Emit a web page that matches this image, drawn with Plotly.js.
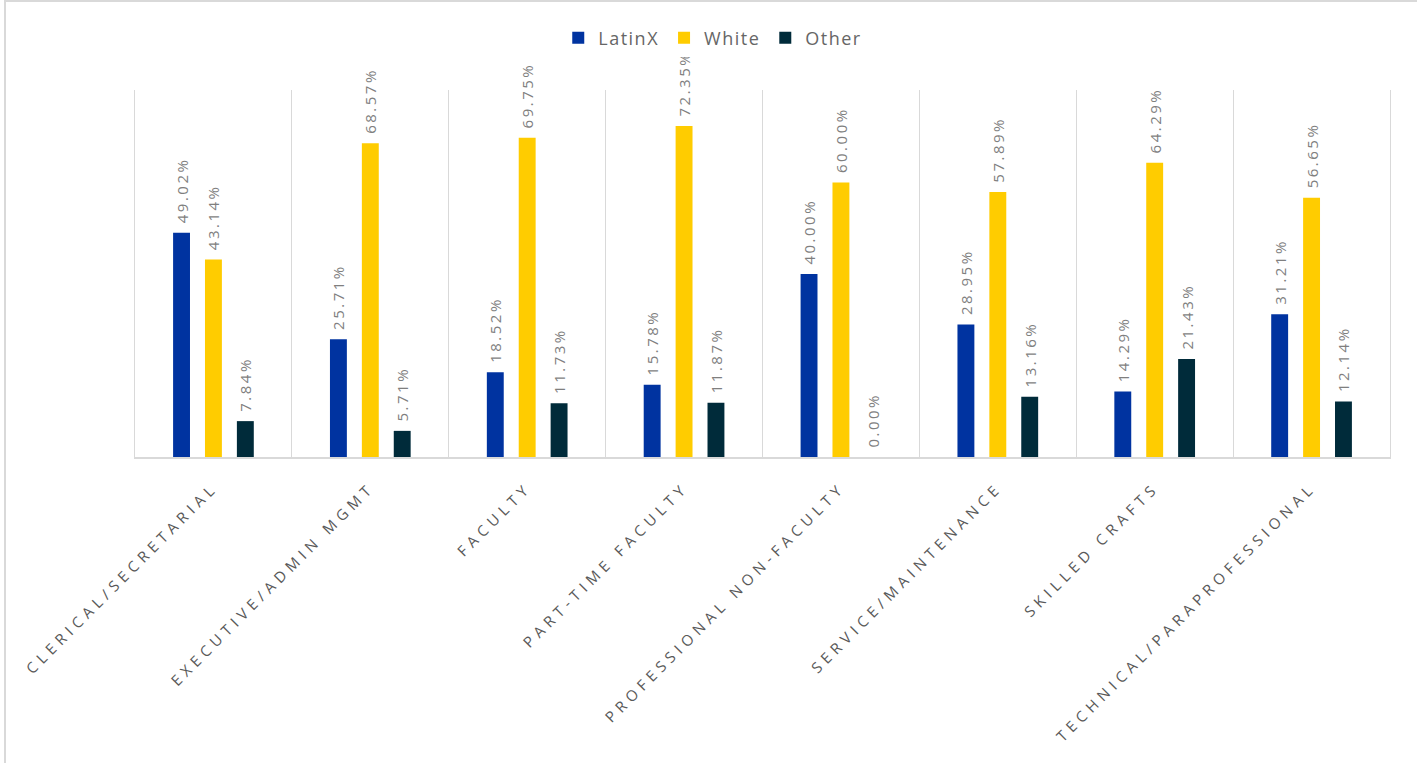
<!DOCTYPE html>
<html>
<head>
<meta charset="utf-8">
<script src="https://cdn.plot.ly/plotly-3.0.1.min.js"></script>
<style>
  html, body { margin: 0; padding: 0; background: #fff; }
  #wrap { position: relative; width: 1417px; height: 763px; overflow: hidden; }
  #frame { position: absolute; left: 4px; top: 0px; right: 0; bottom: 0;
           border-top: 2px solid #d9d9d9; border-left: 2px solid #d9d9d9; pointer-events: none; z-index: 5; }
  #chart { position: absolute; left: 0; top: 0; width: 1417px; height: 763px; }
  .xtick text { letter-spacing: 5px; }
  .bartext { letter-spacing: 2.5px; }
  .legendtext { letter-spacing: 1.5px; }
</style>
</head>
<body>
<div id="wrap">
  <div id="chart"></div>
  <div id="frame"></div>
</div>
<script>
const categories = [
  "CLERICAL/SECRETARIAL",
  "EXECUTIVE/ADMIN MGMT",
  "FACULTY",
  "PART-TIME FACULTY",
  "PROFESSIONAL NON-FACULTY",
  "SERVICE/MAINTENANCE",
  "SKILLED CRAFTS",
  "TECHNICAL/PARAPROFESSIONAL"
];
const latinx = [49.02, 25.71, 18.52, 15.78, 40.00, 28.95, 14.29, 31.21];
const white  = [43.14, 68.57, 69.75, 72.35, 60.00, 57.89, 64.29, 56.65];
const other  = [7.84, 5.71, 11.73, 11.87, 0.00, 13.16, 21.43, 12.14];

const seriesNames = ["LatinX", "White", "Other"];
const seriesColors = ["#0033a0", "#ffcc00", "#002b3a"];
const seriesValues = [latinx, white, other];

const labelFont = { family: "Open Sans, DejaVu Sans, sans-serif", size: 15, color: "#7f7f7f" };

const traces = seriesValues.map((vals, i) => ({
  type: "bar",
  name: seriesNames[i],
  x: categories,
  y: vals,
  marker: { color: seriesColors[i] },
  texttemplate: "\u00a0%{y:.2f}%",
  textposition: "outside",
  textangle: -90,
  constraintext: "none",
  cliponaxis: false,
  textfont: labelFont,
  hoverinfo: "x+y+name"
}));

const layout = {
  width: 1417,
  height: 763,
  margin: { l: 135, r: 27, t: 90, b: 306 },
  paper_bgcolor: "#ffffff",
  plot_bgcolor: "#ffffff",
  barmode: "group",
  bargap: 0.39,
  bargroupgap: 0.47,
  showlegend: true,
  legend: {
    orientation: "h",
    x: 0.503, xanchor: "center", xref: "container",
    y: 0.95, yanchor: "middle", yref: "container",
    font: { family: "Open Sans, DejaVu Sans, sans-serif", size: 18, color: "#666666" },
    itemwidth: 30,
    traceorder: "normal"
  },
  xaxis: {
    type: "category",
    tickson: "boundaries",
    showgrid: true,
    gridcolor: "#d9d9d9",
    gridwidth: 1,
    showline: true,
    linecolor: "#d9d9d9",
    linewidth: 2,
    ticks: "",
    tickangle: -45,
    ticklabelstandoff: 14,
    tickfont: { family: "Open Sans, DejaVu Sans, sans-serif", size: 15, color: "#595959" },
    automargin: false,
    fixedrange: true
  },
  yaxis: {
    range: [0, 80.2],
    showgrid: false,
    showticklabels: false,
    zeroline: false,
    showline: true,
    mirror: true,
    linecolor: "#d9d9d9",
    linewidth: 1,
    ticks: "",
    fixedrange: true
  }
};

Plotly.newPlot("chart", traces, layout, { displayModeBar: false, staticPlot: true });
</script>
</body>
</html>
